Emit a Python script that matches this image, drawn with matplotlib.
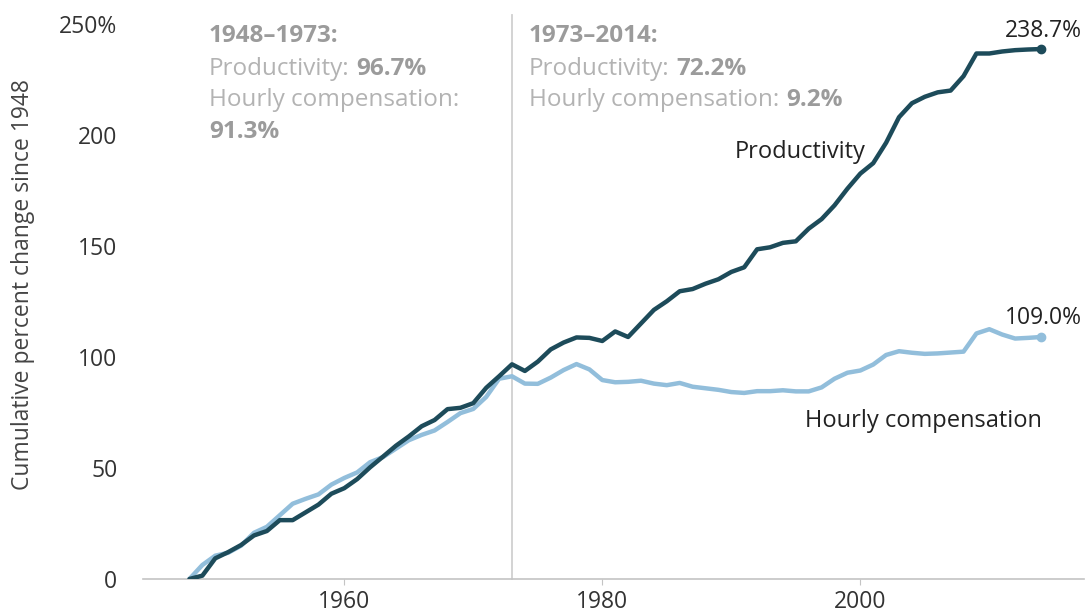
import numpy as np
import matplotlib
matplotlib.use("Agg")
import matplotlib.pyplot as plt

plt.rcParams['font.family'] = ['Open Sans', 'DejaVu Sans']

years = list(range(1948, 2015))

productivity = [0, 1.5, 9.3, 12.1, 15.3, 19.6, 21.6, 26.5, 26.5, 30.0,
                33.5, 38.4, 40.9, 45.0, 50.3, 55.1, 60.0, 64.2, 68.8, 71.6,
                76.5, 77.1, 79.2, 86.1, 91.3, 96.7, 93.7, 97.9, 103.4, 106.5,
                108.8, 108.6, 107.2, 111.5, 109.0, 115.1, 121.2, 125.1, 129.6, 130.6,
                133.0, 135.0, 138.3, 140.4, 148.5, 149.4, 151.4, 152.1, 157.8, 162.1,
                168.3, 175.8, 182.6, 187.3, 196.5, 208.0, 214.3, 217.2, 219.2, 220.0,
                226.5, 236.7, 236.7, 237.6, 238.2, 238.5, 238.7]

compensation = [0, 6.3, 10.5, 11.8, 15.0, 20.8, 23.5, 28.7, 33.9, 36.1,
                38.1, 42.5, 45.5, 48.0, 52.6, 54.9, 58.7, 62.5, 64.9, 66.9,
                70.7, 74.7, 76.6, 82.0, 90.2, 91.3, 88.0, 87.9, 90.7, 94.1,
                96.8, 94.4, 89.6, 88.6, 88.8, 89.3, 88.0, 87.3, 88.3, 86.6,
                85.9, 85.2, 84.2, 83.8, 84.6, 84.6, 85.0, 84.5, 84.5, 86.3,
                90.2, 92.9, 93.9, 96.6, 100.9, 102.6, 101.9, 101.4, 101.6, 102.0,
                102.4, 110.6, 112.5, 110.1, 108.3, 108.6, 109.0]

split_year = 1973

# annotation blocks: heading, then (plain text, bold value) rows
block_early = ['1948\u20131973:', ('Productivity:', '96.7%'), ('Hourly compensation:', None), (None, '91.3%')]
block_late = ['1973\u20132014:', ('Productivity:', '72.2%'), ('Hourly compensation:', '9.2%')]

prod_color = '#1d4b5a'
comp_color = '#92bedb'
gray_plain = '#b3b3b3'
gray_bold = '#9b9b9b'

fig = plt.figure(figsize=(10.86, 6.16), dpi=100)
ax = fig.add_axes([0.1317, 0.0601, 0.866, 0.901])

ax.plot(years, compensation, color=comp_color, lw=3.2, solid_capstyle='round', zorder=3)
ax.plot(years, productivity, color=prod_color, lw=3.2, solid_capstyle='round', zorder=4)
ax.plot(years[-1], productivity[-1], 'o', color=prod_color, ms=6, zorder=5)
ax.plot(years[-1], compensation[-1], 'o', color=comp_color, ms=6, zorder=5)

ax.axvline(split_year, ymin=0, ymax=1.016, color='#d0d0d0', lw=1.3, zorder=1, clip_on=False)

ax.set_xlim(1944.4, 2017.3)
ax.set_ylim(0, 250)
ax.set_xticks([1960, 1980, 2000])
ax.set_yticks([0, 50, 100, 150, 200, 250])
ax.set_yticklabels(['0', '50', '100', '150', '200', '250%'])

for s in ['top', 'right', 'left']:
    ax.spines[s].set_visible(False)
ax.spines['bottom'].set_color('#c4c4c4')
ax.spines['bottom'].set_linewidth(1.2)
ax.tick_params(axis='y', length=0, pad=18.5, labelsize=16.5, labelcolor='#333333')
ax.tick_params(axis='x', length=4, color='#c4c4c4', pad=4, labelsize=16.5, labelcolor='#333333')
ax.set_ylabel('Cumulative percent change since 1948', fontsize=16.5, color='#444444', va='center')
ax.yaxis.set_label_coords(-0.128, 0.53)


def draw_block(x0, block):
    baselines = [242.0, 227.2, 213.2, 198.8]
    ax.text(x0, baselines[0], block[0], fontsize=17.5, color=gray_bold,
            fontweight='bold', va='baseline', ha='left')
    for (plain, bold), yb in zip(block[1:], baselines[1:]):
        if plain is None:
            ax.text(x0, yb, bold, fontsize=17.5, color=gray_bold,
                    fontweight='bold', va='baseline', ha='left')
            continue
        t = ax.text(x0, yb, plain, fontsize=17.5, color=gray_plain, va='baseline', ha='left')
        if bold is not None:
            ax.annotate(bold, xy=(1, yb), xycoords=(t, 'data'), xytext=(5, 0),
                        textcoords='offset points', fontsize=17.5, color=gray_bold,
                        fontweight='bold', va='baseline', ha='left')


draw_block(1949.5, block_early)
draw_block(1974.3, block_late)

ax.text(2000.4, 192.3, 'Productivity', fontsize=17, color='#222222', ha='right', va='center')
ax.text(1995.7, 71.2, 'Hourly compensation', fontsize=17, color='#222222', ha='left', va='center')
ax.text(2017.2, 247.0, '238.7%', fontsize=16.5, color='#222222', ha='right', va='center')
ax.text(2017.2, 117.6, '109.0%', fontsize=16.5, color='#222222', ha='right', va='center')

fig.savefig('out.png', dpi=100)
